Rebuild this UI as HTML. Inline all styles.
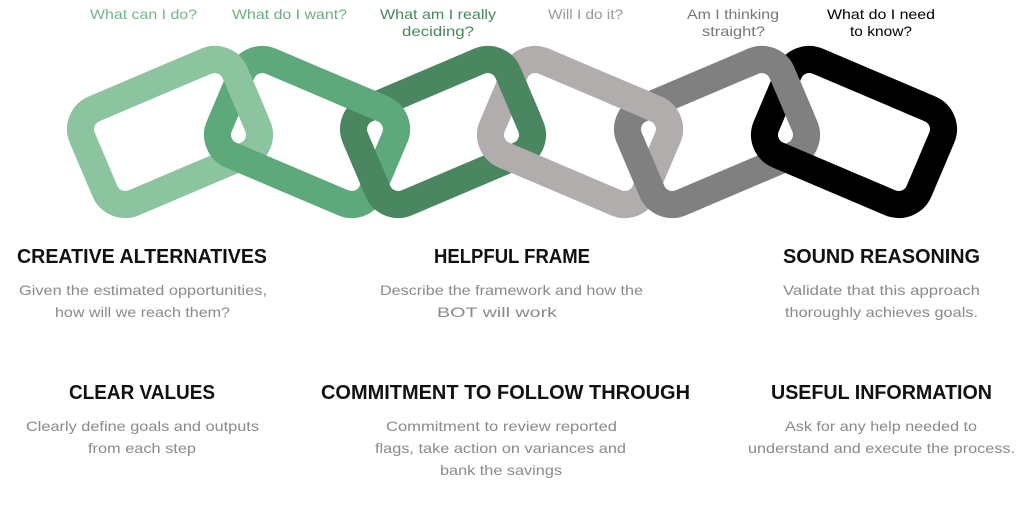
<!DOCTYPE html>
<html><head><meta charset="utf-8"><style>
html,body{margin:0;padding:0;background:#fff;width:1024px;height:505px;overflow:hidden}
svg{display:block}
.q{font-family:"Liberation Sans",sans-serif;font-size:14px}
.h{font-family:"Liberation Sans",sans-serif;font-size:20px;font-weight:bold;fill:#111}
.d{font-family:"Liberation Sans",sans-serif;font-size:14px;fill:#8a8a8a}
</style></head><body>
<svg width="1024" height="505" viewBox="0 0 1024 505">
<defs>
<rect id="L" x="-83" y="-51" width="166" height="102" rx="22" ry="22" fill="none" stroke-width="27"/>
<clipPath id="c1"><rect x="195" y="30" width="90" height="85"/></clipPath>
<clipPath id="c2"><rect x="335" y="30" width="90" height="116"/></clipPath>
<clipPath id="c3"><rect x="470" y="30" width="90" height="85"/></clipPath>
<clipPath id="c4"><rect x="608" y="30" width="90" height="116"/></clipPath>
<clipPath id="c5"><rect x="745" y="30" width="90" height="85"/></clipPath>
</defs>
<g>
<use href="#L" stroke="#8cc4a0" transform="translate(170,132) rotate(-23)"/>
<use href="#L" stroke="#5ea97b" transform="translate(307,132) rotate(23)"/>
<use href="#L" stroke="#4a8660" transform="translate(443,132) rotate(-23)"/>
<use href="#L" stroke="#b0adac" transform="translate(580,132) rotate(23)"/>
<use href="#L" stroke="#808080" transform="translate(717,132) rotate(-23)"/>
<use href="#L" stroke="#000000" transform="translate(854,132) rotate(23)"/>
<g clip-path="url(#c1)"><use href="#L" stroke="#8cc4a0" transform="translate(170,132) rotate(-23)"/></g>
<g clip-path="url(#c2)"><use href="#L" stroke="#5ea97b" transform="translate(307,132) rotate(23)"/></g>
<g clip-path="url(#c3)"><use href="#L" stroke="#4a8660" transform="translate(443,132) rotate(-23)"/></g>
<g clip-path="url(#c4)"><use href="#L" stroke="#b0adac" transform="translate(580,132) rotate(23)"/></g>
<g clip-path="url(#c5)"><use href="#L" stroke="#808080" transform="translate(717,132) rotate(-23)"/></g>
</g>
<text class="q" fill="#74b58b" x="90" y="19" textLength="107" lengthAdjust="spacingAndGlyphs">What can I do?</text>
<text class="q" fill="#6aae82" x="232" y="19" textLength="115" lengthAdjust="spacingAndGlyphs">What do I want?</text>
<text class="q" fill="#4a8660" x="380" y="19" textLength="116" lengthAdjust="spacingAndGlyphs">What am I really</text>
<text class="q" fill="#4a8660" x="402" y="36" textLength="72" lengthAdjust="spacingAndGlyphs">deciding?</text>
<text class="q" fill="#9a9898" x="548" y="19" textLength="75" lengthAdjust="spacingAndGlyphs">Will I do it?</text>
<text class="q" fill="#777" x="687" y="19" textLength="92" lengthAdjust="spacingAndGlyphs">Am I thinking</text>
<text class="q" fill="#777" x="702" y="36" textLength="63" lengthAdjust="spacingAndGlyphs">straight?</text>
<text class="q" fill="#000" x="827" y="19" textLength="108" lengthAdjust="spacingAndGlyphs">What do I need</text>
<text class="q" fill="#000" x="850" y="36" textLength="62" lengthAdjust="spacingAndGlyphs">to know?</text>

<text class="h" x="17" y="263" textLength="250" lengthAdjust="spacingAndGlyphs">CREATIVE ALTERNATIVES</text>
<text class="h" x="434" y="263" textLength="156" lengthAdjust="spacingAndGlyphs">HELPFUL FRAME</text>
<text class="h" x="783" y="263" textLength="197" lengthAdjust="spacingAndGlyphs">SOUND REASONING</text>
<text class="h" x="69" y="399" textLength="146" lengthAdjust="spacingAndGlyphs">CLEAR VALUES</text>
<text class="h" x="321" y="399" textLength="369" lengthAdjust="spacingAndGlyphs">COMMITMENT TO FOLLOW THROUGH</text>
<text class="h" x="771" y="399" textLength="221" lengthAdjust="spacingAndGlyphs">USEFUL INFORMATION</text>

<text class="d" x="19" y="295" textLength="248" lengthAdjust="spacingAndGlyphs">Given the estimated opportunities,</text>
<text class="d" x="55" y="317" textLength="175" lengthAdjust="spacingAndGlyphs">how will we reach them?</text>
<text class="d" x="380" y="295" textLength="263" lengthAdjust="spacingAndGlyphs">Describe the framework and how the</text>
<text class="d" x="437" y="317" textLength="120" lengthAdjust="spacingAndGlyphs">BOT will work</text>
<text class="d" x="783" y="295" textLength="197" lengthAdjust="spacingAndGlyphs">Validate that this approach</text>
<text class="d" x="785" y="317" textLength="193" lengthAdjust="spacingAndGlyphs">thoroughly achieves goals.</text>
<text class="d" x="26" y="431" textLength="233" lengthAdjust="spacingAndGlyphs">Clearly define goals and outputs</text>
<text class="d" x="88" y="453" textLength="108" lengthAdjust="spacingAndGlyphs">from each step</text>
<text class="d" x="386" y="431" textLength="231" lengthAdjust="spacingAndGlyphs">Commitment to review reported</text>
<text class="d" x="375" y="453" textLength="251" lengthAdjust="spacingAndGlyphs">flags, take action on variances and</text>
<text class="d" x="440" y="475" textLength="122" lengthAdjust="spacingAndGlyphs">bank the savings</text>
<text class="d" x="785" y="431" textLength="192" lengthAdjust="spacingAndGlyphs">Ask for any help needed to</text>
<text class="d" x="748" y="453" textLength="267" lengthAdjust="spacingAndGlyphs">understand and execute the process.</text>
</svg>
</body></html>
